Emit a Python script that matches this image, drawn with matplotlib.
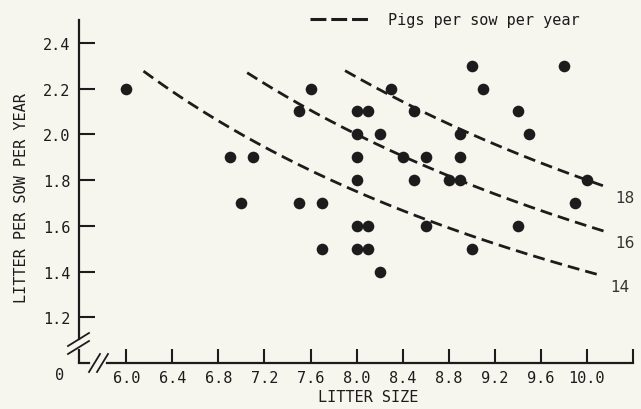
import numpy as np
import matplotlib
matplotlib.use('Agg')
import matplotlib.pyplot as plt
from matplotlib.lines import Line2D

# litter size vs litters per sow per year
litter_size = [6.0, 6.9, 7.1, 7.0, 7.5, 7.6, 7.5, 7.7, 7.7,
               8.0, 8.1, 8.0, 8.2, 8.0, 8.0, 8.0, 8.1, 8.0, 8.1, 8.2,
               8.3, 8.4, 8.5, 8.5, 8.6, 8.6, 8.8, 8.9, 8.9, 8.9,
               9.0, 9.1, 9.0, 9.4, 9.5, 9.4, 9.8, 9.9, 10.0]
litter_per_year = [2.2, 1.9, 1.9, 1.7, 2.1, 2.2, 1.7, 1.7, 1.5,
                   2.1, 2.1, 2.0, 2.0, 1.9, 1.8, 1.6, 1.6, 1.5, 1.5, 1.4,
                   2.2, 1.9, 2.1, 1.8, 1.9, 1.6, 1.8, 1.8, 2.0, 1.9,
                   2.3, 2.2, 1.5, 2.1, 2.0, 1.6, 2.3, 1.7, 1.8]

# iso-lines: pigs per sow per year = litter size * litters per year
pig_levels = [14, 16, 18]
curve_start = [6.15, 7.05, 7.9]
curve_end = [10.1, 10.15, 10.15]

xticks = [6.0, 6.4, 6.8, 7.2, 7.6, 8.0, 8.4, 8.8, 9.2, 9.6, 10.0, 10.4]
xtick_labels = ['6.0', '6.4', '6.8', '7.2', '7.6', '8.0', '8.4', '8.8', '9.2', '9.6', '10.0', '']
yticks = [1.2, 1.4, 1.6, 1.8, 2.0, 2.2, 2.4]

bg = '#f7f6ee'
ink = '#1c1c1c'
mono = 'DejaVu Sans Mono'

fig = plt.figure(figsize=(6.41, 4.10), dpi=100, facecolor=bg)
ax = fig.add_axes([79/641, 1 - 364/410, 554/641, 343/410])
ax.set_facecolor(bg)
ax.set_xlim(5.59, 10.4)
ax.set_ylim(1.0, 2.5)

for s in ax.spines.values():
    s.set_visible(False)

# axis lines with breaks
lw_axis = 1.6
ax.plot([0, 0], [0.07, 1], color=ink, lw=lw_axis, transform=ax.transAxes, clip_on=False)
ax.plot([0, 0], [0, 0.04], color=ink, lw=lw_axis, transform=ax.transAxes, clip_on=False,
        solid_capstyle='butt')
ax.plot([0, 0.018], [0, 0], color=ink, lw=lw_axis, transform=ax.transAxes, clip_on=False)
ax.plot([0.05, 1], [0, 0], color=ink, lw=lw_axis, transform=ax.transAxes, clip_on=False)

# break marks (pixel offsets converted to axes fractions)
W, H = 554, 343
for dy in (0, 8):
    ax.plot([(68-79)/W, (89-79)/W], [(364-347-dy)/H, (364-334-dy)/H], color=ink, lw=1.3,
            transform=ax.transAxes, clip_on=False)
for dx in (0, 8):
    ax.plot([(89-79+dx)/W, (100-79+dx)/W], [(364-373)/H, (364-355)/H], color=ink, lw=1.3,
            transform=ax.transAxes, clip_on=False)

ax.set_xticks(xticks)
ax.set_xticklabels(xtick_labels)
ax.set_yticks(yticks)
ax.set_yticklabels([f'{v:.1f}' for v in yticks])
ax.tick_params(axis='y', direction='in', length=11.5, width=1.5, color=ink, pad=6,
               labelsize=11, labelcolor=ink)
ax.tick_params(axis='x', direction='in', length=10, width=1.5, color=ink, pad=5,
               labelsize=11, labelcolor=ink)
for lab in ax.get_xticklabels() + ax.get_yticklabels():
    lab.set_fontfamily(mono)

# iso curves
for p, x0, x1 in zip(pig_levels, curve_start, curve_end):
    xs = np.linspace(x0, x1, 200)
    ax.plot(xs, p / xs, color=ink, lw=2.0, dashes=(4.3, 2.2), zorder=2)
    ax.text(x1 + 0.1, p / x1 - 0.05, str(p), fontsize=11, color='#333333',
            ha='left', va='center', family='DejaVu Sans')

ax.scatter(litter_size, litter_per_year, s=70, color=ink, zorder=3, linewidths=0)

# labels
fig.text(368/641, 1 - 398/410, 'LITTER SIZE', family=mono, fontsize=11, color=ink,
         ha='center', va='center')
fig.text(22/641, 1 - 198/410, 'LITTER PER SOW PER YEAR', family=mono, fontsize=11,
         color=ink, ha='center', va='center', rotation=90)
fig.text(60/641, 1 - 376/410, '0', family=mono, fontsize=11, color=ink,
         ha='center', va='center')

# legend
fig.add_artist(Line2D([310/641, 370/641], [1 - 20/410, 1 - 20/410], color=ink, lw=2.2,
                      dashes=(5.2, 1.6)))
fig.text(388/641, 1 - 20/410, 'Pigs per sow per year', family=mono, fontsize=11,
         color=ink, ha='left', va='center')

fig.savefig('out.png', dpi=100, facecolor=bg)
